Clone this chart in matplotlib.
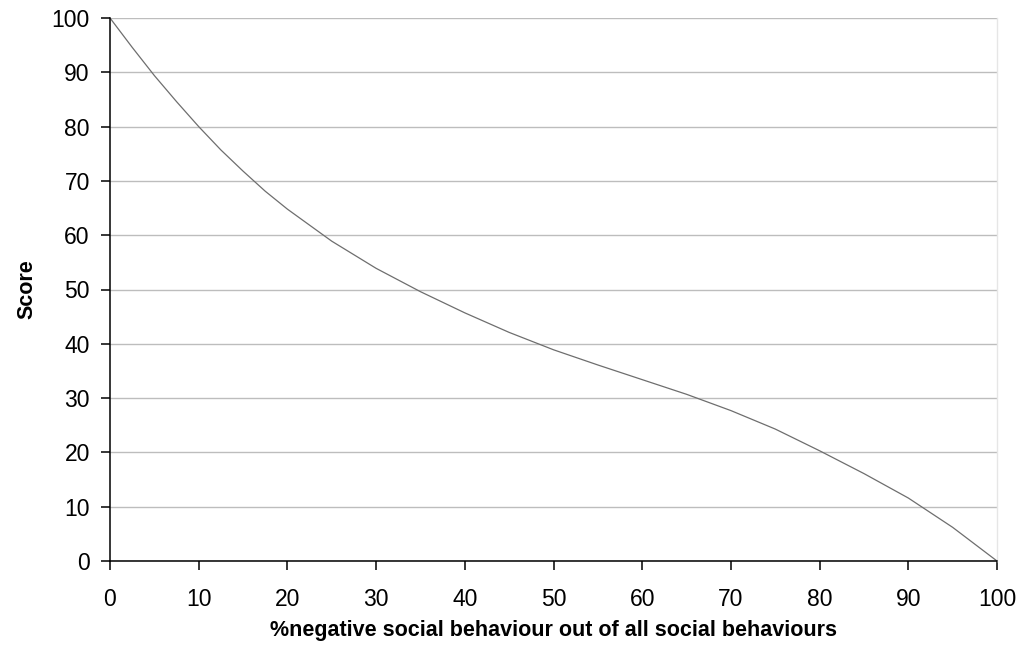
import numpy as np
import matplotlib
matplotlib.use('Agg')
import matplotlib.pyplot as plt

# ── data ────────────────────────────────────────────────────────────
pct_negative = [0, 2.5, 5, 7.5, 10, 12.5, 15, 17.5, 20, 25, 30, 35, 40,
                45, 50, 55, 60, 65, 70, 75, 80, 85, 90, 95, 100]
score = [100, 94.6, 89.4, 84.6, 80.0, 75.7, 71.8, 68.1, 64.8, 58.9, 53.9,
         49.6, 45.7, 42.1, 38.9, 36.1, 33.4, 30.7, 27.7, 24.3, 20.3, 16.1,
         11.6, 6.2, 0]

x_ticks = np.arange(0, 101, 10)
y_ticks = np.arange(0, 101, 10)

plt.rcParams['font.family'] = ['Liberation Sans', 'DejaVu Sans']

fig = plt.figure(figsize=(10.19, 6.46), dpi=100)
ax = fig.add_axes([110 / 1019, 1 - 561 / 646, 887 / 1019, 543 / 646])

ax.plot(pct_negative, score, color='#6e6e6e', linewidth=0.9)

ax.set_xlim(0, 100)
ax.set_ylim(0, 100)
ax.set_xticks(x_ticks)
ax.set_yticks(y_ticks)
ax.yaxis.grid(True, color='#bdbdbd', linewidth=1.0)
ax.set_axisbelow(True)

for side in ('left', 'bottom'):
    ax.spines[side].set_color('black')
    ax.spines[side].set_linewidth(1.1)
ax.spines['top'].set_visible(False)
ax.spines['right'].set_color('#e6e6e6')
ax.spines['right'].set_linewidth(1.0)

ax.tick_params(axis='x', direction='out', length=6.5, width=1.1,
               pad=13, labelsize=16.5)
ax.tick_params(axis='y', direction='out', length=6.5, width=1.1,
               pad=8, labelsize=16.5)

ax.set_xlabel('%negative social behaviour out of all social behaviours',
              fontsize=15.5, fontweight='bold')
ax.set_ylabel('Score', fontsize=15.5, fontweight='bold')
ax.xaxis.set_label_coords(0.5, -75 / 543)
ax.xaxis.label.set_va('baseline')
ax.yaxis.set_label_coords(-83 / 887, 0.5)
ax.yaxis.label.set_va('center')

fig.savefig('out.png', dpi=100)
